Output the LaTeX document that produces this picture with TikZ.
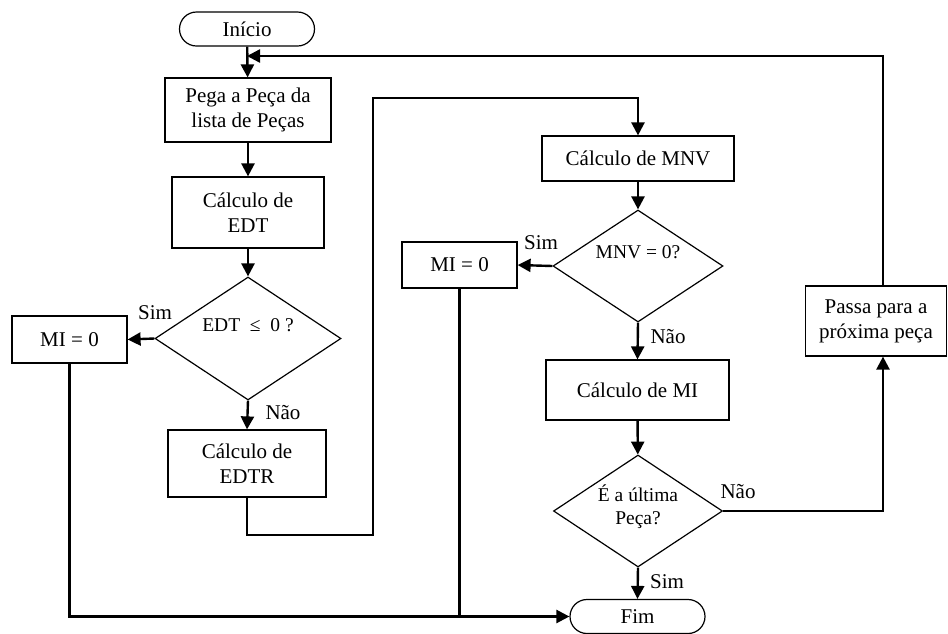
\documentclass[tikz,border=0pt]{standalone}
\usepackage{fontspec}
\setmainfont{Liberation Serif}
\usetikzlibrary{shapes.geometric,arrows.meta}

\tikzset{
  base/.style={draw, line width=1.2pt, inner sep=0pt, align=center,
    font=\fontsize{21}{25}\selectfont},
  process/.style={base, rectangle},
  terminal/.style={base, rectangle, rounded corners=17pt,
    minimum width=135pt, minimum height=34pt},
  decision/.style={base, diamond},
  flow/.style={line width=2.4pt, -{Triangle[length=13pt,width=13pt]}},
  plain/.style={line width=2.4pt},
  lbl/.style={font=\fontsize{21}{25}\selectfont, inner sep=0pt, align=center},
  question/.style={font=\fontsize{19.5}{23}\selectfont, inner sep=0pt, align=center}
}

\begin{document}
\begin{tikzpicture}[x=1pt, y=-1pt]
\useasboundingbox (0,0) rectangle (948,633);

% main column
\node[terminal] (inicio) at (247,29) {Início};
\node[process, minimum width=166pt, minimum height=64pt] (pega) at (248,110)
  {Pega a Peça da\\lista de Peças};
\node[process, minimum width=152pt, minimum height=71pt] (edt) at (248,212.5)
  {Cálculo de\\EDT};
\node[decision, minimum width=186pt, minimum height=123pt] (d1) at (248,338.5) {};
\node[question] (d1t) at (248,325) {EDT\enspace≤\enspace0 ?};
\node[process, minimum width=115pt, minimum height=47pt] (miL) at (69.5,339.5) {MI = 0};
\node[process, minimum width=158pt, minimum height=67pt] (edtr) at (247,463.5)
  {Cálculo de\\EDTR};

% right column
\node[process, minimum width=192pt, minimum height=45pt] (mnv) at (638,158.5)
  {Cálculo de MNV};
\node[decision, minimum width=170pt, minimum height=112pt] (d2) at (638,266) {};
\node[question] (d2t) at (638,252) {MNV = 0?};
\node[process, minimum width=115pt, minimum height=46pt] (miR) at (459.5,265) {MI = 0};
\node[process, minimum width=183pt, minimum height=60pt] (mi) at (637.5,390)
  {Cálculo de MI};
\node[decision, minimum width=169pt, minimum height=112pt] (d3) at (638,511) {};
\node[question] (d3t) at (638,507) {É a última\\Peça?};
\node[terminal] (fim) at (637.5,616.5) {Fim};
\node[process, minimum width=141pt, minimum height=70pt] (pass) at (876,321)
  {Passa para a\\próxima peça};

% routing points
\coordinate (ja) at (373,535);
\coordinate (jb) at (373,98);
\coordinate (rcol) at (883,56);

% branch labels
\node[lbl] at (155,313) {Sim};
\node[lbl] at (283,413) {Não};
\node[lbl] at (541,243) {Sim};
\node[lbl] at (668,337) {Não};
\node[lbl] at (738,492) {Não};
\node[lbl] at (667,582) {Sim};

% connectors
\draw[flow] (inicio) -- (pega);
\draw[flow] (pega) -- (edt);
\draw[flow] (edt) -- (d1);
\draw[flow] (d1.west) -- (miL.east);
\draw[flow] (d1.south) -- (edtr.north);
\draw[flow] (miL.south) |- (fim.west);
\draw[flow] (edtr.south) |- (ja) -- (jb) -| (mnv.north);
\draw[flow] (mnv) -- (d2);
\draw[flow] (d2.west) -- (miR.east);
\draw[flow] (d2.south) -- (mi.north);
\draw[plain] (miR.south) -- (miR.south |- fim.west);
\draw[flow] (mi) -- (d3);
\draw[flow] (d3.south) -- (fim.north);
\draw[flow] (d3.east) -| (pass.south -| rcol);
\draw[flow] (pass.north -| rcol) |- (inicio.south |- rcol);
\end{tikzpicture}
\end{document}
